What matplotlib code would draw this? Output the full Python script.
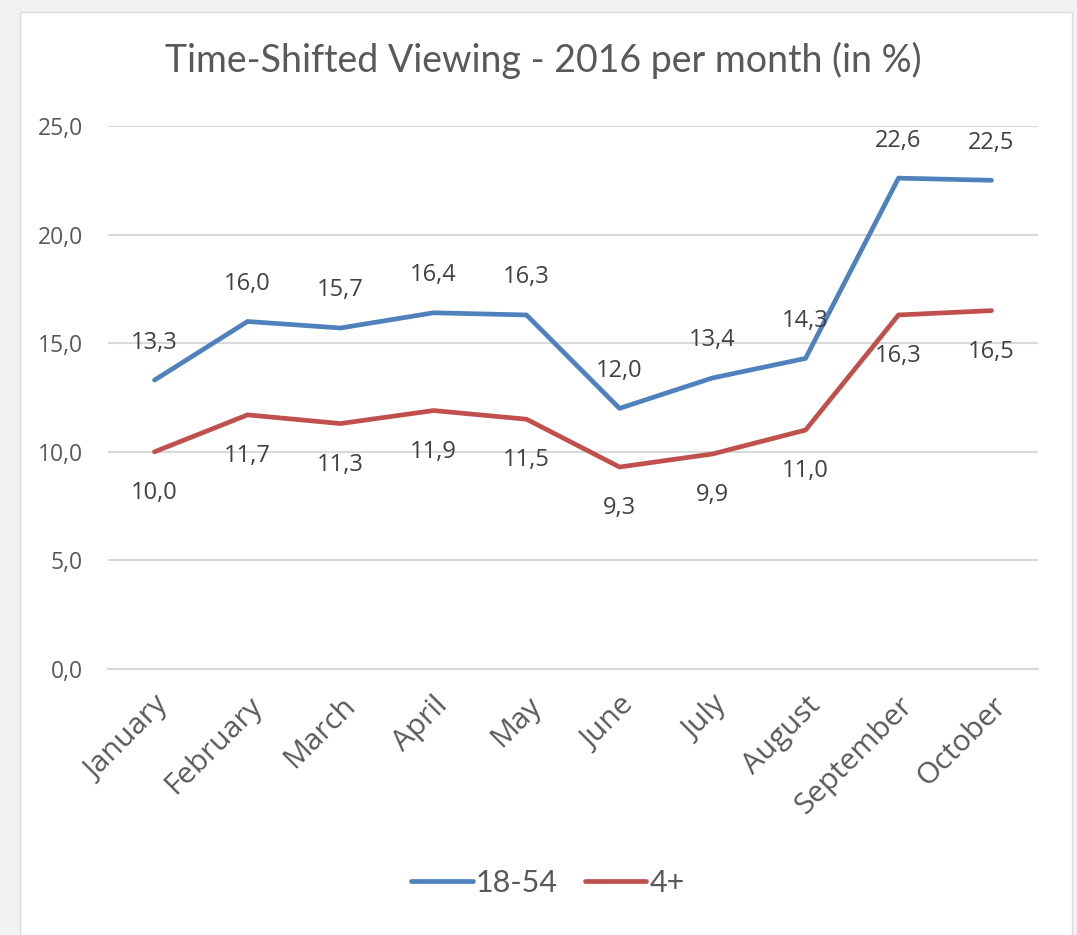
import matplotlib.pyplot as plt
from matplotlib.patches import Rectangle

# Data
months = ['January', 'February', 'March', 'April', 'May', 'June',
          'July', 'August', 'September', 'October']
viewers_18_54 = [13.3, 16.0, 15.7, 16.4, 16.3, 12.0, 13.4, 14.3, 22.6, 22.5]
viewers_4plus = [10.0, 11.7, 11.3, 11.9, 11.5, 9.3, 9.9, 11.0, 16.3, 16.5]
y_ticks = [0, 5, 10, 15, 20, 25]

blue = '#4f81bd'
red = '#c0504d'
text_grey = '#595959'
label_font = ['Open Sans', 'DejaVu Sans']
narrow_font = ['Lato', 'DejaVu Sans']


def fmt(v):
    return f'{v:.1f}'.replace('.', ',')


fig = plt.figure(figsize=(10.77, 9.35), dpi=100, facecolor='#f2f2f2')

# White chart panel
fig.patches.append(Rectangle((20 / 1077, 0), 1052 / 1077, 1 - 12 / 935,
                             transform=fig.transFigure, facecolor='white',
                             edgecolor='#dcdcdc', linewidth=1, zorder=-10))

ax = fig.add_axes([108 / 1077, 1 - 669 / 935, 930 / 1077, (669 - 126) / 935])
ax.set_facecolor('none')
ax.set_zorder(1)

x = list(range(len(months)))
ax.plot(x, viewers_18_54, color=blue, linewidth=3.4, solid_capstyle='round',
        label='18-54', zorder=3)
ax.plot(x, viewers_4plus, color=red, linewidth=3.4, solid_capstyle='round',
        label='4+', zorder=3)

# Data labels
for xi, v in zip(x, viewers_18_54):
    ax.annotate(fmt(v), (xi, v), xytext=(0, 27), textcoords='offset points',
                ha='center', va='center', fontsize=17, color='#404040',
                family=label_font)
for xi, v in zip(x, viewers_4plus):
    ax.annotate(fmt(v), (xi, v), xytext=(0, -29.5), textcoords='offset points',
                ha='center', va='center', fontsize=17, color='#404040',
                family=label_font)

ax.set_xlim(-0.5, len(months) - 0.5)
ax.set_ylim(0, 25)
ax.set_yticks(y_ticks)
ax.set_yticklabels([fmt(t) for t in y_ticks], fontsize=16.5, color=text_grey,
                   family=label_font)
ax.set_xticks(x)
ax.set_xticklabels(months, rotation=45, ha='right', rotation_mode='anchor',
                   fontsize=21.5, color=text_grey, family=label_font)
for lbl in ax.get_xticklabels():
    lbl.set_x(lbl.get_position()[0])
ax.tick_params(axis='y', length=0, pad=18)
ax.tick_params(axis='x', length=0, pad=16)

ax.grid(axis='y', color='#d9d9d9', linewidth=1.5)
ax.set_axisbelow(True)
for side in ['top', 'right', 'left']:
    ax.spines[side].set_visible(False)
ax.spines['bottom'].set_color('#d9d9d9')
ax.spines['bottom'].set_linewidth(1.5)

fig.text(543 / 1077, 1 - 60 / 935, 'Time-Shifted Viewing - 2016 per month (in %)',
         ha='center', va='center', fontsize=27, color=text_grey,
         family=narrow_font)

fig.legend(loc='center', bbox_to_anchor=(548 / 1077, 1 - 883 / 935), ncol=2,
           frameon=False, handlelength=2.0, handletextpad=0.1,
           columnspacing=0.9, prop={'family': narrow_font, 'size': 22},
           labelcolor=text_grey)

fig.savefig('out.png', dpi=100, facecolor=fig.get_facecolor())
